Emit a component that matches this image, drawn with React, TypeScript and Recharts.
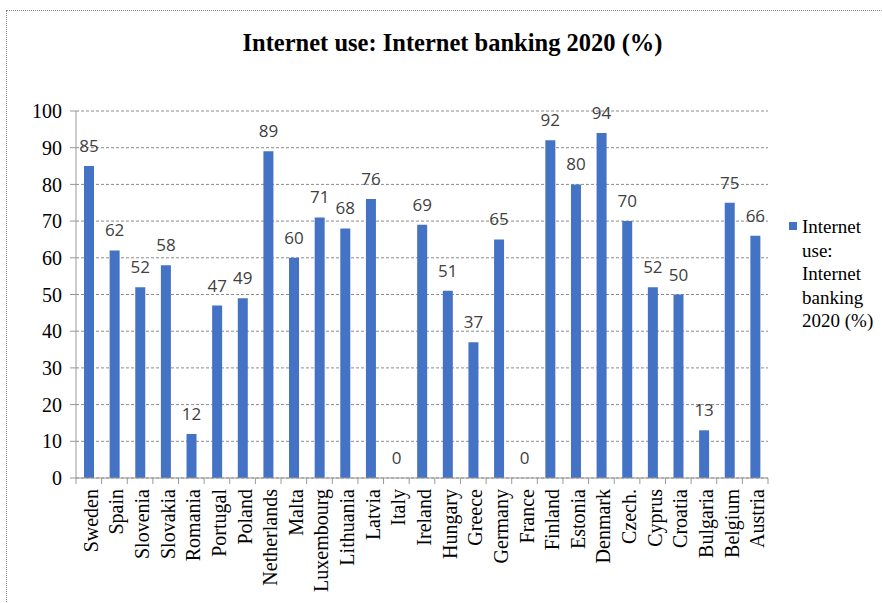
import React from "react";
import { BarChart, Bar, XAxis, YAxis, CartesianGrid, LabelList } from "recharts";

const countries = [
  "Sweden", "Spain", "Slovenia", "Slovakia", "Romania", "Portugal", "Poland",
  "Netherlands", "Malta", "Luxembourg", "Lithuania", "Latvia", "Italy", "Ireland",
  "Hungary", "Greece", "Germany", "France", "Finland", "Estonia", "Denmark",
  "Czech.", "Cyprus", "Croatia", "Bulgaria", "Belgium", "Austria",
];
const values = [
  85, 62, 52, 58, 12, 47, 49, 89, 60, 71, 68, 76, 0, 69, 51, 37, 65, 0, 92, 80, 94,
  70, 52, 50, 13, 75, 66,
];
const yTicks = [0, 10, 20, 30, 40, 50, 60, 70, 80, 90, 100];
const title = "Internet use: Internet banking 2020 (%)";
const legendLines = ["Internet", "use:", "Internet", "banking", "2020 (%)"];

const data = countries.map((c, i) => ({ country: c, value: values[i] }));

const W = 882;
const H = 603;
const PLOT_LEFT = 76;
const PLOT_RIGHT = 768;
const PLOT_TOP = 111;
const PLOT_BOTTOM = 478;
const BAR_COLOR = "#4472C4";
const SERIF = "'Liberation Serif', 'Times New Roman', serif";

const XTick = (props: any) => {
  const { x, y, payload, index } = props;
  const half =
    payload && typeof payload.offset === "number" && payload.offset > 0
      ? payload.offset
      : (PLOT_RIGHT - PLOT_LEFT) / countries.length / 2;
  const ty = y - 8;
  return (
    <g>
      <line x1={x - half} y1={ty} x2={x - half} y2={ty + 6} stroke="#999" />
      {index === countries.length - 1 && (
        <line x1={x + half} y1={ty} x2={x + half} y2={ty + 6} stroke="#999" />
      )}
      <text
        x={x + 2}
        y={ty + 11}
        transform={`rotate(-90, ${x + 2}, ${ty + 11})`}
        textAnchor="end"
        dominantBaseline="central"
        fontFamily={SERIF}
        fontSize={20}
        fill="#000"
      >
        {payload.value}
      </text>
    </g>
  );
};

const BarLabel = (props: any) => {
  const { x, y, width, value } = props;
  if (x == null || y == null) return null;
  return (
    <text
      x={Number(x) + Number(width || 0) / 2}
      y={Number(y) - 14}
      textAnchor="middle"
      fill="#404040"
      fontFamily="'Open Sans', sans-serif"
      fontSize={17}
    >
      {String(value)}
    </text>
  );
};

export default function App() {
  return (
    <div
      style={{
        position: "fixed",
        left: 0,
        top: 0,
        width: W,
        height: H,
        overflow: "hidden",
        background: "#fff",
      }}
    >
      <div
        style={{
          position: "absolute",
          left: 6,
          top: 10,
          width: 1000,
          height: 1000,
          border: "1px dotted #888",
        }}
      />
      <div style={{ position: "absolute", left: 0, top: 0 }}>
        <BarChart
          width={W}
          height={H}
          data={data}
          margin={{ top: PLOT_TOP, right: W - PLOT_RIGHT, bottom: 0, left: 0 }}
        >
          <CartesianGrid
            vertical={false}
            stroke="#8c8c8c"
            strokeDasharray="3 2"
          />
          <XAxis
            dataKey="country"
            interval={0}
            height={H - PLOT_BOTTOM}
            tickLine={false}
            axisLine={{ stroke: "#999" }}
            tick={<XTick />}
          />
          <YAxis
            width={PLOT_LEFT}
            domain={[0, 100]}
            ticks={yTicks}
            interval={0}
            tickSize={6}
            tickMargin={8}
            tickLine={{ stroke: "#999" }}
            axisLine={{ stroke: "#999" }}
            tick={{ fontFamily: SERIF, fontSize: 20, fill: "#000" }}
          />
          <Bar
            dataKey="value"
            fill={BAR_COLOR}
            barSize={10}
            minPointSize={0.01}
            isAnimationActive={false}
          >
            <LabelList dataKey="value" content={<BarLabel />} />
          </Bar>
        </BarChart>
      </div>
      <div
        style={{
          position: "absolute",
          left: 0,
          width: 905,
          top: 29,
          textAlign: "center",
          fontFamily: SERIF,
          fontWeight: "bold",
          fontSize: 24.5,
          color: "#000",
          whiteSpace: "nowrap",
        }}
      >
        {title}
      </div>
      <div
        style={{
          position: "absolute",
          left: 789,
          top: 222,
          width: 8,
          height: 8,
          background: BAR_COLOR,
        }}
      />
      <div
        style={{
          position: "absolute",
          left: 802,
          top: 215,
          fontFamily: SERIF,
          fontSize: 19,
          lineHeight: "23.5px",
          color: "#000",
          whiteSpace: "nowrap",
        }}
      >
        {legendLines.map((l, i) => (
          <div key={i}>{l}</div>
        ))}
      </div>
    </div>
  );
}
